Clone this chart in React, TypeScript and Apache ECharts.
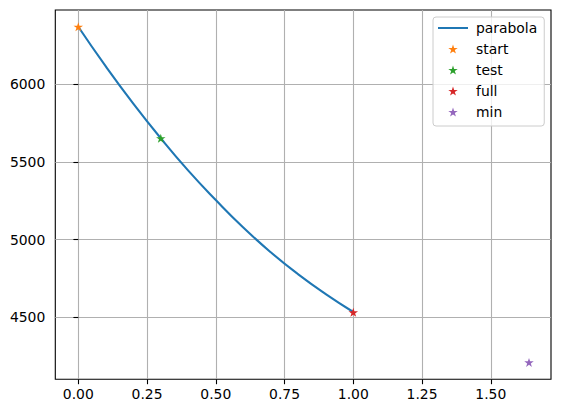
import React, { useEffect, useRef } from "react";
import * as echarts from "echarts";

const curveX = [0, 0.1, 0.2, 0.3, 0.4, 0.5, 0.6, 0.7, 0.8, 0.9, 1.0];
const curveY = [6368, 6113, 5874, 5651, 5443, 5254, 5077, 4918, 4776, 4649, 4534];

const pointNames = ["start", "test", "full", "min"];
const pointX = [0, 0.3, 1.0, 1.639];
const pointY = [6368, 5651, 4532, 4210];
const pointColors = ["#ff7f0e", "#2ca02c", "#d62728", "#9467bd"];

const xTicks = [0, 0.25, 0.5, 0.75, 1.0, 1.25, 1.5];
const yTicks = [4500, 5000, 5500, 6000];

const STAR =
  "path://M50,0 L61.23,34.55 L97.55,34.55 L68.17,55.9 L79.39,90.45 L50,69.1 L20.61,90.45 L31.83,55.9 L2.45,34.55 L38.77,34.55 Z";

const FONT = "DejaVu Sans";

export default function App() {
  const ref = useRef<HTMLDivElement>(null);
  useEffect(() => {
    if (!ref.current) return;
    const chart = echarts.init(ref.current, undefined, { renderer: "svg" });
    const axisCommon = {
      type: "value" as const,
      axisLine: { show: false },
      axisTick: { show: true, inside: false, length: 4.9, lineStyle: { color: "#000", width: 1.1 } },
      splitLine: { show: true, lineStyle: { color: "#b0b0b0", width: 1.1 } },
    };
    chart.setOption({
      animation: false,
      grid: {
        left: 55.3,
        right: 10,
        top: 10,
        bottom: 33.7,
        show: true,
        borderColor: "#000",
        borderWidth: 1.1,
        containLabel: false,
      },
      xAxis: {
        ...axisCommon,
        min: -0.0836,
        max: 1.719,
        axisTick: { ...axisCommon.axisTick, customValues: xTicks },
        axisLabel: {
          customValues: xTicks,
          formatter: (v: number) => v.toFixed(2),
          color: "#000",
          fontFamily: FONT,
          fontSize: 13.9,
          margin: 8,
        },
      },
      yAxis: {
        ...axisCommon,
        min: 4101.4,
        max: 6475.8,
        axisTick: { ...axisCommon.axisTick, customValues: yTicks },
        axisLabel: {
          customValues: yTicks,
          formatter: (v: number) => String(Math.round(v)),
          color: "#000",
          fontFamily: FONT,
          fontSize: 13.9,
          margin: 10,
        },
      },
      legend: {
        orient: "vertical",
        left: 433,
        top: 17,
        itemWidth: 30,
        itemHeight: 9,
        itemGap: 7,
        padding: [4, 7, 7, 4],
        backgroundColor: "rgba(255,255,255,0.8)",
        borderColor: "#cccccc",
        borderWidth: 1,
        borderRadius: 3,
        symbolKeepAspect: true,
        textStyle: { color: "#000", fontFamily: FONT, fontSize: 13.9, padding: [0, 0, 0, 3] },
        data: [
          { name: "parabola", itemStyle: { opacity: 0, color: "transparent", borderWidth: 0 } },
          ...pointNames,
        ],
      },
      series: [
        {
          name: "parabola",
          type: "line",
          data: curveX.map((x, i) => [x, curveY[i]]),
          smooth: true,
          symbol: "none",
          lineStyle: { color: "#1f77b4", width: 2.1 },
          itemStyle: { color: "#1f77b4" },
          z: 2,
        },
        ...pointNames.map((n, i) => ({
          name: n,
          type: "scatter",
          data: [[pointX[i], pointY[i]]],
          symbol: STAR,
          symbolSize: 9.5,
          symbolKeepAspect: true,
          itemStyle: { color: pointColors[i], opacity: 1 },
          z: 3,
        })),
      ],
    });
    return () => chart.dispose();
  }, []);
  return (
    <div
      ref={ref}
      style={{ position: "absolute", left: 0, top: 0, width: 561, height: 413, background: "#fff" }}
    />
  );
}
